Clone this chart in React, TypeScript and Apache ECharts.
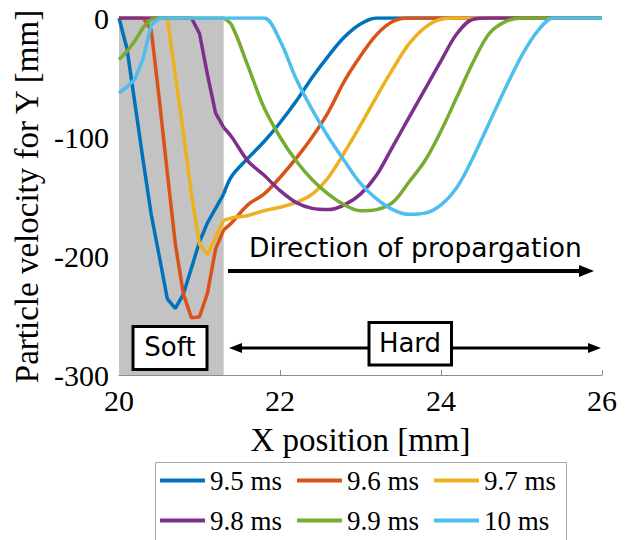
import React, { useEffect, useRef } from "react";
import * as echarts from "echarts";

const X = [20.0, 20.1, 20.2, 20.3, 20.4, 20.5, 20.6, 20.7, 20.8, 20.9, 21.0, 21.1, 21.2, 21.3, 21.4,
  21.6, 21.8, 22.0, 22.2, 22.4, 22.6, 22.8, 23.0, 23.2, 23.4, 23.6, 23.8, 24.0, 24.2, 24.4, 24.6, 24.8,
  25.0, 25.2, 25.4, 25.6, 25.8, 26.0];

const V95 = [0, -26, -73, -120, -165, -200, -236, -244, -232, -210, -188, -172, -160, -148, -133,
  -118, -104, -88, -70, -50, -32, -16, -5, 0, 0, 0, 0, 0, 0, 0, 0, 0, 0, 0, 0, 0, 0, 0];
const V96 = [0, 0, 0, 0, -10, -68, -130, -190, -232, -252, -251, -231, -194, -178, -172,
  -157, -148, -134, -118, -100, -79, -53, -32, -14, -3, 0, 0, 0, 0, 0, 0, 0, 0, 0, 0, 0, 0, 0];
const V97 = [0, 0, 0, 0, 0, 0, 0, -48, -97, -148, -190, -199, -184, -170, -168,
  -166, -162, -159, -155, -148, -134, -113, -90, -66, -43, -22, -8, -1, 0, 0, 0, 0, 0, 0, 0, 0, 0, 0];
const V98 = [0, 0, 0, 0, 0, 0, 0, 0, 0, 0, -13, -48, -80, -92, -100,
  -120, -132, -145, -155, -160, -161, -157, -148, -132, -108, -84, -60, -36, -13, -1, 0, 0, 0, 0, 0, 0, 0, 0];
const V99 = [-35, -28, -19, -8, -1, 0, 0, 0, 0, 0, 0, 0, 0, 0, -6,
  -40, -75, -100, -120, -136, -148, -157, -162, -161, -155, -138, -120, -95, -66, -37, -13, -3, 0, 0, 0, 0, 0, 0];
const V100 = [-63, -58, -51, -34, -6, 0, 0, 0, 0, 0, 0, 0, 0, 0, 0,
  0, 0, -19, -51, -77, -100, -120, -139, -152, -161, -165, -164, -157, -142, -117, -88, -59, -32, -11, 0, 0, 0, 0];

const SERIES_NAMES = ["9.5 ms", "9.6 ms", "9.7 ms", "9.8 ms", "9.9 ms", "10 ms"];
const SERIES_VALUES = [V95, V96, V97, V98, V99, V100];
const COLORS = ["#0072BD", "#D95319", "#EDB120", "#7E2F8E", "#77AC30", "#4DBEEE"];
const X_TICKS = [20, 22, 24, 26];
const Y_TICKS = [-300, -200, -100, 0];
const SOFT_REGION = [20, 21.3];

const SERIF = "Liberation Serif";
const SANS = "DejaVu Sans";

export default function App() {
  const ref = useRef<HTMLDivElement>(null);
  useEffect(() => {
    if (!ref.current) return;
    const chart = echarts.init(ref.current, undefined, { renderer: "svg" });
    const splitIdx = X.indexOf(SOFT_REGION[1]);
    const lines: any[] = [];
    SERIES_NAMES.forEach((name, i) => {
      const pts = X.map((x, j) => [x, SERIES_VALUES[i][j]]);
      const base = {
        name,
        type: "line",
        showSymbol: false,
        symbol: "none",
        lineStyle: { width: 3.5, color: COLORS[i] },
        itemStyle: { color: COLORS[i] },
        z: 3 + i,
      };
      // soft material part: piecewise linear
      lines.push({ ...base, data: pts.slice(0, splitIdx + 1) });
      // hard material part: smooth
      lines.push({ ...base, data: pts.slice(splitIdx), smooth: 0.35 });
    });
    const legendCommon = {
      left: 160,
      orient: "horizontal",
      icon: "rect",
      itemWidth: 45,
      itemHeight: 4,
      itemGap: 15,
      padding: 0,
      textStyle: { fontFamily: SERIF, fontSize: 27, color: "#000" },
    };
    chart.setOption({
      animation: false,
      backgroundColor: "#fff",
      grid: { left: 119, right: 24, top: 18, bottom: 165 },
      xAxis: {
        type: "value",
        min: X_TICKS[0],
        max: X_TICKS[X_TICKS.length - 1],
        interval: 2,
        name: "X position [mm]",
        nameLocation: "middle",
        nameGap: 48,
        nameTextStyle: { fontFamily: SERIF, fontSize: 33, color: "#000" },
        axisLine: { onZero: false, lineStyle: { color: "#8c8c8c", width: 1 } },
        axisTick: { inside: true, length: 5, lineStyle: { color: "#8c8c8c" } },
        axisLabel: { fontFamily: SERIF, fontSize: 30, color: "#000", margin: 10 },
        splitLine: { show: false },
      },
      yAxis: {
        type: "value",
        min: Y_TICKS[0],
        max: Y_TICKS[Y_TICKS.length - 1],
        interval: 100,
        name: "Particle velocity for Y [mm]",
        nameLocation: "middle",
        nameGap: 72,
        nameTextStyle: { fontFamily: SERIF, fontSize: 33, color: "#000" },
        axisLine: { show: true, onZero: false, lineStyle: { color: "#8c8c8c", width: 1 } },
        axisTick: { show: true, inside: true, length: 5, lineStyle: { color: "#8c8c8c" } },
        axisLabel: { fontFamily: SERIF, fontSize: 30, color: "#000", margin: 10 },
        splitLine: { show: false },
      },
      legend: [
        { ...legendCommon, top: 467, data: SERIES_NAMES.slice(0, 3) },
        { ...legendCommon, top: 507, data: SERIES_NAMES.slice(3, 6) },
      ],
      series: [
        {
          name: "soft-region",
          type: "line",
          data: [],
          z: 1,
          silent: true,
          markArea: {
            silent: true,
            itemStyle: { color: "#c3c3c3" },
            data: [[{ xAxis: SOFT_REGION[0] }, { xAxis: SOFT_REGION[1] }]],
          },
        },
        ...lines,
      ],
      graphic: [
        { type: "rect", shape: { x: 155.5, y: 462.5, width: 411, height: 100 }, style: { fill: "none", stroke: "#a6a6a6", lineWidth: 1 }, z: 10 },
        { type: "text", style: { x: 249, y: 247, text: "Direction of propargation", font: `26.5px ${SANS}`, fill: "#000", textVerticalAlign: "middle" }, z: 10 },
        { type: "line", shape: { x1: 228, y1: 271, x2: 582, y2: 271 }, style: { stroke: "#000", lineWidth: 4 }, z: 10 },
        { type: "polygon", shape: { points: [[579, 265], [594, 271], [579, 277]] }, style: { fill: "#000" }, z: 10 },
        { type: "line", shape: { x1: 238, y1: 348, x2: 592, y2: 348 }, style: { stroke: "#000", lineWidth: 3 }, z: 10 },
        { type: "polygon", shape: { points: [[229, 348], [242, 343], [242, 353]] }, style: { fill: "#000" }, z: 10 },
        { type: "polygon", shape: { points: [[601, 348], [588, 343], [588, 353]] }, style: { fill: "#000" }, z: 10 },
        { type: "rect", shape: { x: 133, y: 326.5, width: 74, height: 43 }, style: { fill: "#fff", stroke: "#000", lineWidth: 3 }, z: 11 },
        { type: "text", style: { x: 170, y: 347, text: "Soft", font: `26px ${SANS}`, fill: "#000", textAlign: "center", textVerticalAlign: "middle" }, z: 12 },
        { type: "rect", shape: { x: 369, y: 322.5, width: 82.5, height: 42.5 }, style: { fill: "#fff", stroke: "#000", lineWidth: 3 }, z: 11 },
        { type: "text", style: { x: 410, y: 343, text: "Hard", font: `26px ${SANS}`, fill: "#000", textAlign: "center", textVerticalAlign: "middle" }, z: 12 },
      ],
    });
    return () => chart.dispose();
  }, []);
  return (
    <div
      ref={ref}
      style={{ position: "fixed", left: 0, top: 0, width: 626, height: 540, background: "#fff" }}
    />
  );
}
